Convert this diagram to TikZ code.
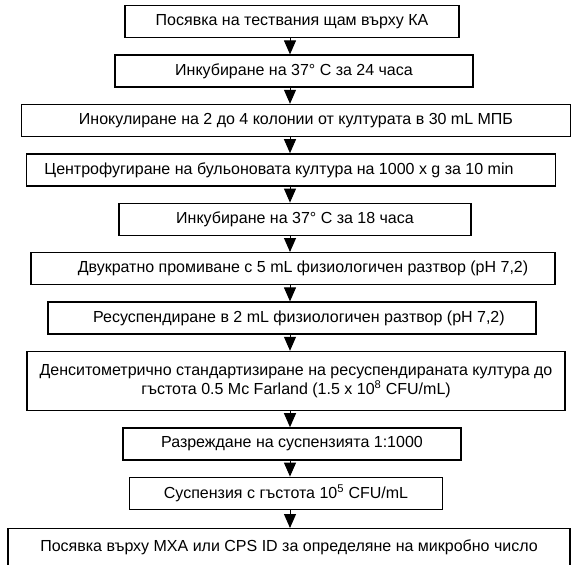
\documentclass[tikz,border=0pt]{standalone}
\usepackage{fontspec}
\setmainfont{Liberation Sans}
\usetikzlibrary{arrows.meta,positioning}

\begin{document}
\begin{tikzpicture}[
    x=1pt, y=-1pt,
    font=\fontsize{16}{19.5}\selectfont,
    node distance=16pt,
    box/.style={draw, line width=1.4pt, minimum height=32pt, inner sep=2pt, align=center},
    arrow/.style={-{Triangle[length=14pt, width=12pt]}, line width=1pt}
  ]
    \clip (0,0) rectangle (574,565);
    \coordinate (axis) at (290,0);

    \node[box, minimum width=334pt, anchor=north] (seed) at (292,5) {Посявка на тествания щам върху КА};
    \node[box, minimum width=358pt, below=of seed, xshift=2pt] (incubA) {Инкубиране на 37° С за 24 часа};
    \node[box, minimum width=549pt, below=of incubA, xshift=2pt] (inocul) {Инокулиране на 2 до 4 колонии от културата в 30 mL МПБ};
    \node[box, minimum width=529pt, below=of inocul, xshift=-5pt] (centri) {Центрофугиране на бульоновата култура на 1000 x g за 10 min\hspace*{24pt}};
    \node[box, minimum width=352pt, below=of centri, xshift=4pt] (incubB) {Инкубиране на 37° С за 18 часа};
    \node[box, minimum width=524pt, below=of incubB, xshift=-2pt] (wash) {\hspace*{20pt}Двукратно промиване с 5 mL физиологичен разтвор (pH 7,2)};
    \node[box, minimum width=488pt, below=of wash, xshift=-1pt] (resusp) {\hspace*{14pt}Ресуспендиране в 2 mL физиологичен разтвор (pH 7,2)};
    \node[box, minimum width=538pt, minimum height=59pt, below=of resusp, xshift=4pt] (densit) {Денситометрично стандартизиране на ресуспендираната култура до\\гъстота 0.5 Mc Farland (1.5 x 10\textsuperscript{8} CFU/mL)};
    \node[box, minimum width=338pt, below=of densit, xshift=-4pt] (dilut) {Разреждане на суспензията 1:1000};
    \node[box, minimum width=313pt, below=of dilut, xshift=-6pt] (susp) {Суспензия с гъстота 10\textsuperscript{5} CFU/mL};
    \node[box, minimum width=562pt, minimum height=38pt, below=of susp, xshift=3pt, yshift=-2pt] (plate) {Посявка върху МХА или CPS ID за определяне на микробно число};

    \draw[arrow] (seed.south -| axis) -- (incubA.north -| axis);
    \draw[arrow] (incubA.south -| axis) -- (inocul.north -| axis);
    \draw[arrow] (inocul.south -| axis) -- (centri.north -| axis);
    \draw[arrow] (centri.south -| axis) -- (incubB.north -| axis);
    \draw[arrow] (incubB.south -| axis) -- (wash.north -| axis);
    \draw[arrow] (wash.south -| axis) -- (resusp.north -| axis);
    \draw[arrow] (resusp.south -| axis) -- (densit.north -| axis);
    \draw[arrow] (densit.south -| axis) -- (dilut.north -| axis);
    \draw[arrow] (dilut.south -| axis) -- (susp.north -| axis);
    \draw[arrow] (susp.south -| axis) -- (plate.north -| axis);
\end{tikzpicture}
\end{document}
